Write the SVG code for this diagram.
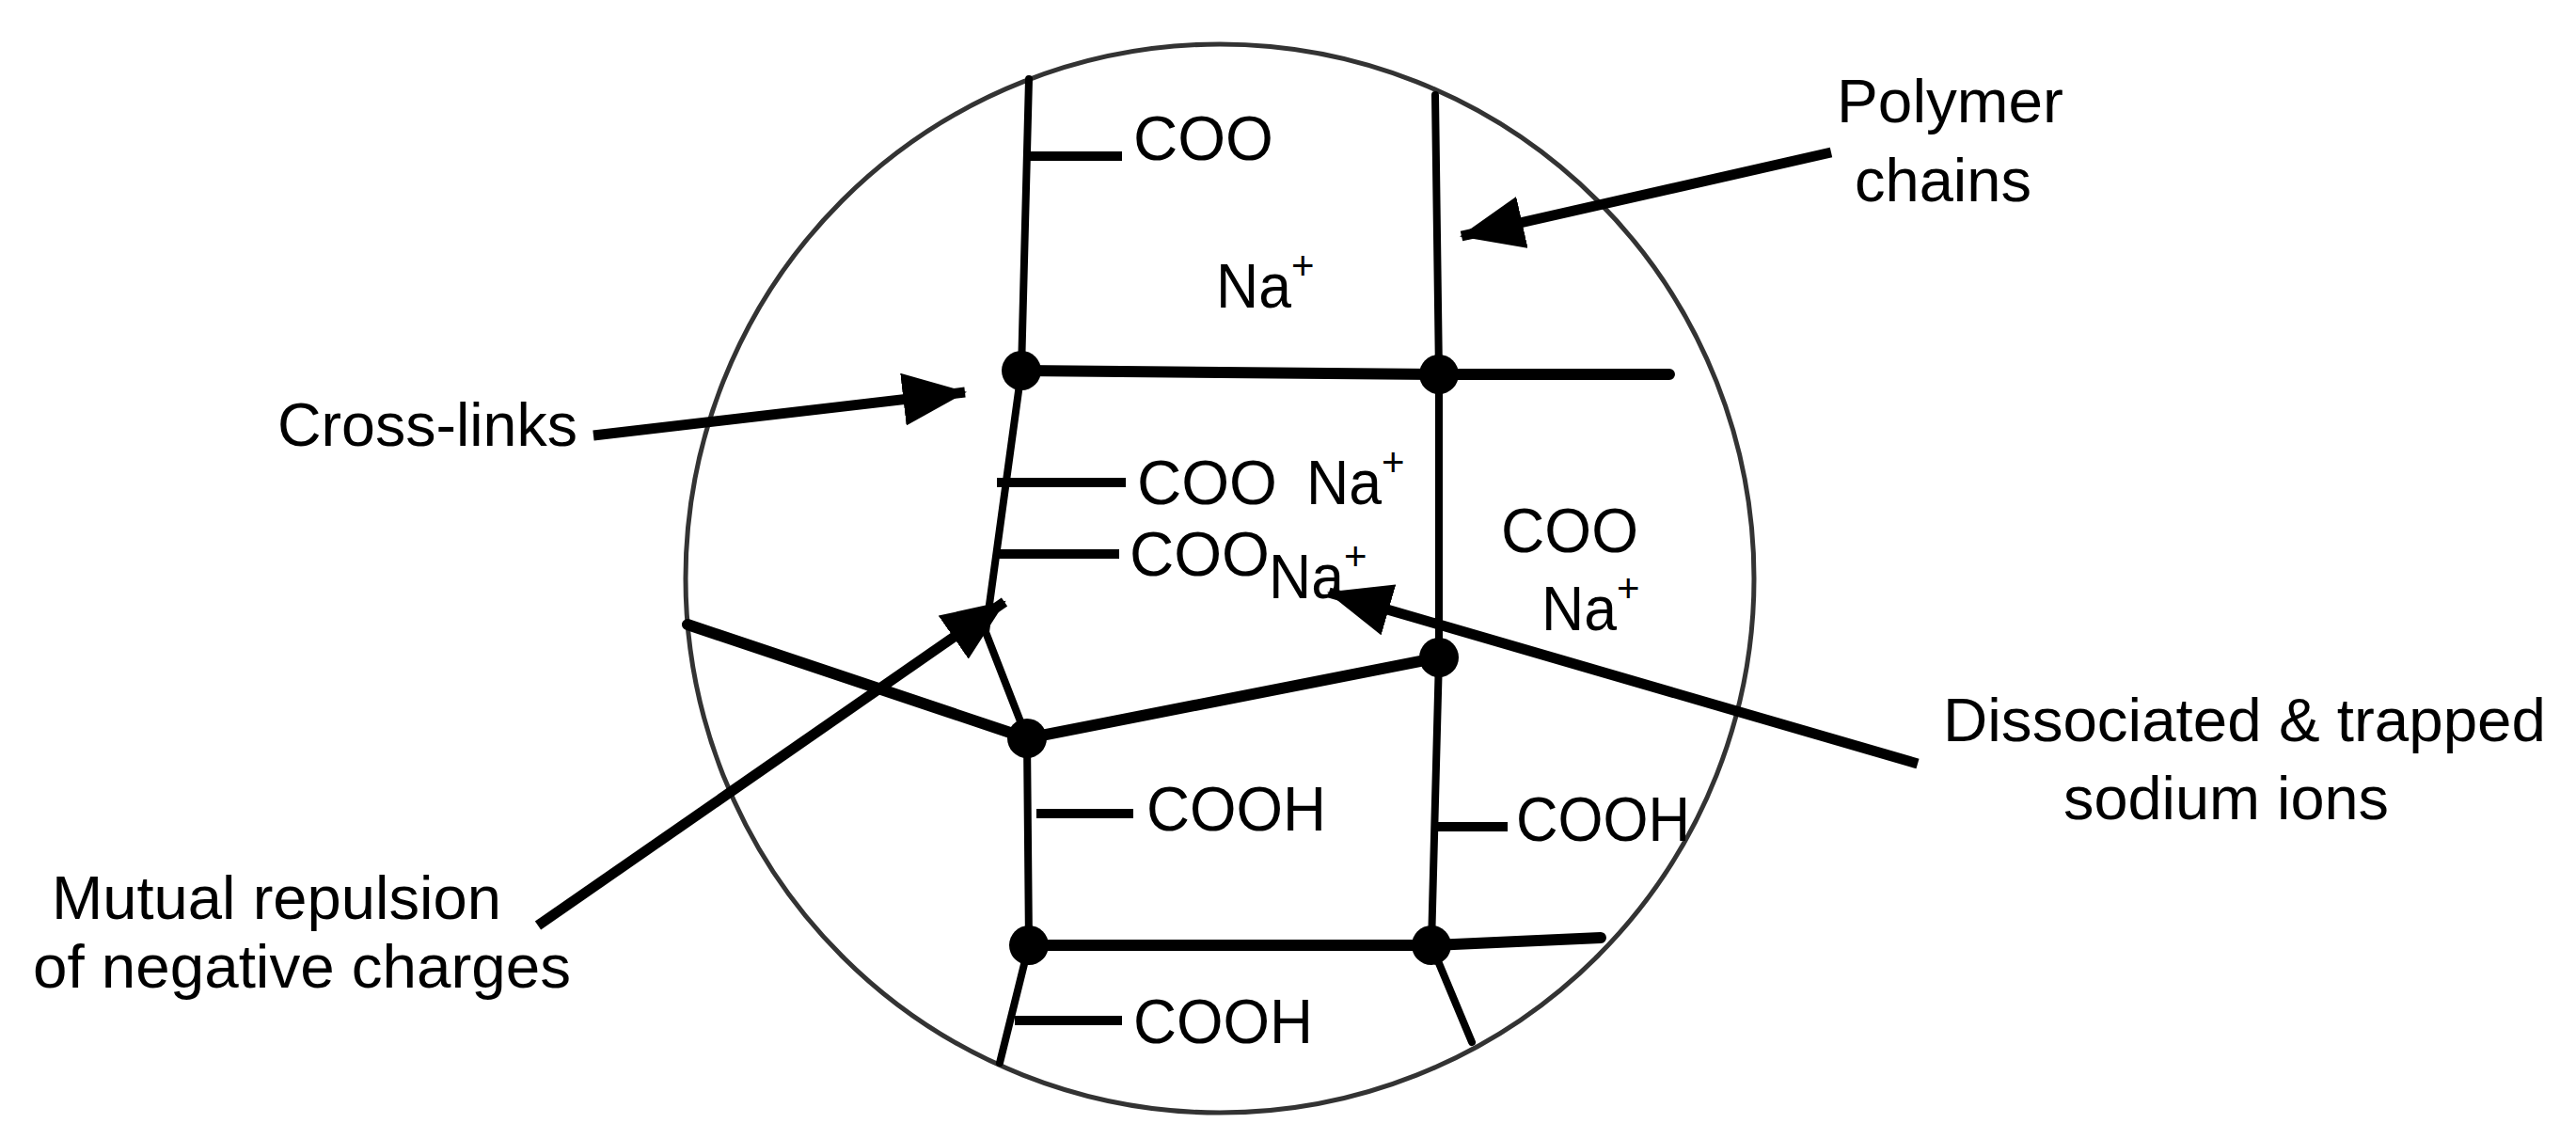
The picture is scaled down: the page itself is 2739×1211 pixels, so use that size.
<svg xmlns="http://www.w3.org/2000/svg" width="2739" height="1211" viewBox="0 0 2739 1211">
<style>
.t{font-family:"Liberation Sans",Arial,sans-serif;font-size:66px;fill:#000}
.l{font-family:"Liberation Sans",Arial,sans-serif;font-size:64px;fill:#000}
.sup{font-size:42px}
.ch{stroke:#000;stroke-width:8;fill:none;stroke-linecap:round;stroke-linejoin:round}
.xl{stroke:#000;stroke-width:12;fill:none;stroke-linecap:round}
.pd{stroke:#000;stroke-width:10;fill:none}
.ar{stroke:#000;stroke-width:11;fill:none}
.dot{fill:#000}
</style>
<defs>
<marker id="ah" markerUnits="userSpaceOnUse" markerWidth="70" markerHeight="56" refX="66" refY="28" orient="auto">
<path d="M0,0 L68,28 L0,56 Z" fill="#000"/>
</marker>
</defs>
<rect width="2739" height="1211" fill="#fff"/>
<circle cx="1297" cy="615" r="568" fill="none" stroke="#333" stroke-width="5"/>
<g id="chains">
<path class="ch" d="M1094,84 L1086,394 L1048,672 L1092,785 L1094,1005 L1063,1130"/>
<path class="ch" d="M1526,101 L1530,398 L1530,699 L1522,1005 L1565,1108"/>
<path class="xl" d="M1086,394 L1530,398 L1775,398"/>
<path class="xl" d="M731,664 L1092,785 L1530,699"/>
<path class="xl" d="M1094,1005 L1522,1005 L1702,997"/>
</g>
<g id="pendants">
<path class="pd" d="M1094,166 H1193 M1060,513 H1197 M1058,589 H1190 M1102,865 H1205 M1522,879 H1603 M1079,1085 H1193"/>
</g>
<g id="nodes">
<circle class="dot" cx="1086" cy="394" r="21"/>
<circle class="dot" cx="1530" cy="398" r="21"/>
<circle class="dot" cx="1530" cy="699" r="21"/>
<circle class="dot" cx="1092" cy="785" r="21"/>
<circle class="dot" cx="1094" cy="1005" r="21"/>
<circle class="dot" cx="1522" cy="1005" r="21"/>
</g>
<g id="inner-labels">
<text class="t" x="1205" y="170" textLength="149" lengthAdjust="spacingAndGlyphs">COO</text>
<text class="t" x="1293" y="327"><tspan textLength="80" lengthAdjust="spacingAndGlyphs">Na</tspan><tspan class="sup" dy="-30">+</tspan></text>
<text class="t" x="1209" y="536"><tspan textLength="149" lengthAdjust="spacingAndGlyphs">COO</tspan><tspan x="1389" textLength="80" lengthAdjust="spacingAndGlyphs">Na</tspan><tspan class="sup" dy="-30">+</tspan></text>
<text class="t" x="1201" y="612" textLength="149" lengthAdjust="spacingAndGlyphs">COO</text>
<text class="t" x="1349" y="636"><tspan textLength="80" lengthAdjust="spacingAndGlyphs">Na</tspan><tspan class="sup" dy="-30">+</tspan></text>
<text class="t" x="1596" y="587" textLength="146" lengthAdjust="spacingAndGlyphs">COO</text>
<text class="t" x="1639" y="670"><tspan textLength="80" lengthAdjust="spacingAndGlyphs">Na</tspan><tspan class="sup" dy="-30">+</tspan></text>
<text class="t" x="1219" y="883" textLength="191" lengthAdjust="spacingAndGlyphs">COOH</text>
<text class="t" x="1612" y="894" textLength="185" lengthAdjust="spacingAndGlyphs">COOH</text>
<text class="t" x="1205" y="1109" textLength="191" lengthAdjust="spacingAndGlyphs">COOH</text>
</g>
<g id="connectors">
<line class="ar" x1="1947" y1="162" x2="1554" y2="251" marker-end="url(#ah)"/>
<line class="ar" x1="631" y1="463" x2="1026" y2="417" marker-end="url(#ah)"/>
<line class="ar" x1="572" y1="984" x2="1068" y2="640" marker-end="url(#ah)"/>
<line class="ar" x1="2039" y1="812" x2="1413" y2="630" marker-end="url(#ah)"/>
</g>
<g id="callouts">
<text class="l" x="1953" y="130" textLength="241" lengthAdjust="spacingAndGlyphs">Polymer</text>
<text class="l" x="1972" y="214" textLength="188" lengthAdjust="spacingAndGlyphs">chains</text>
<text class="l" x="295" y="474" textLength="319" lengthAdjust="spacingAndGlyphs">Cross-links</text>
<text class="l" x="55" y="977" textLength="478" lengthAdjust="spacingAndGlyphs">Mutual repulsion</text>
<text class="l" x="35" y="1050" textLength="572" lengthAdjust="spacingAndGlyphs">of negative charges</text>
<text class="l" x="2066" y="788" textLength="641" lengthAdjust="spacingAndGlyphs">Dissociated &amp; trapped</text>
<text class="l" x="2194" y="871" textLength="346" lengthAdjust="spacingAndGlyphs">sodium ions</text>
</g>
</svg>
